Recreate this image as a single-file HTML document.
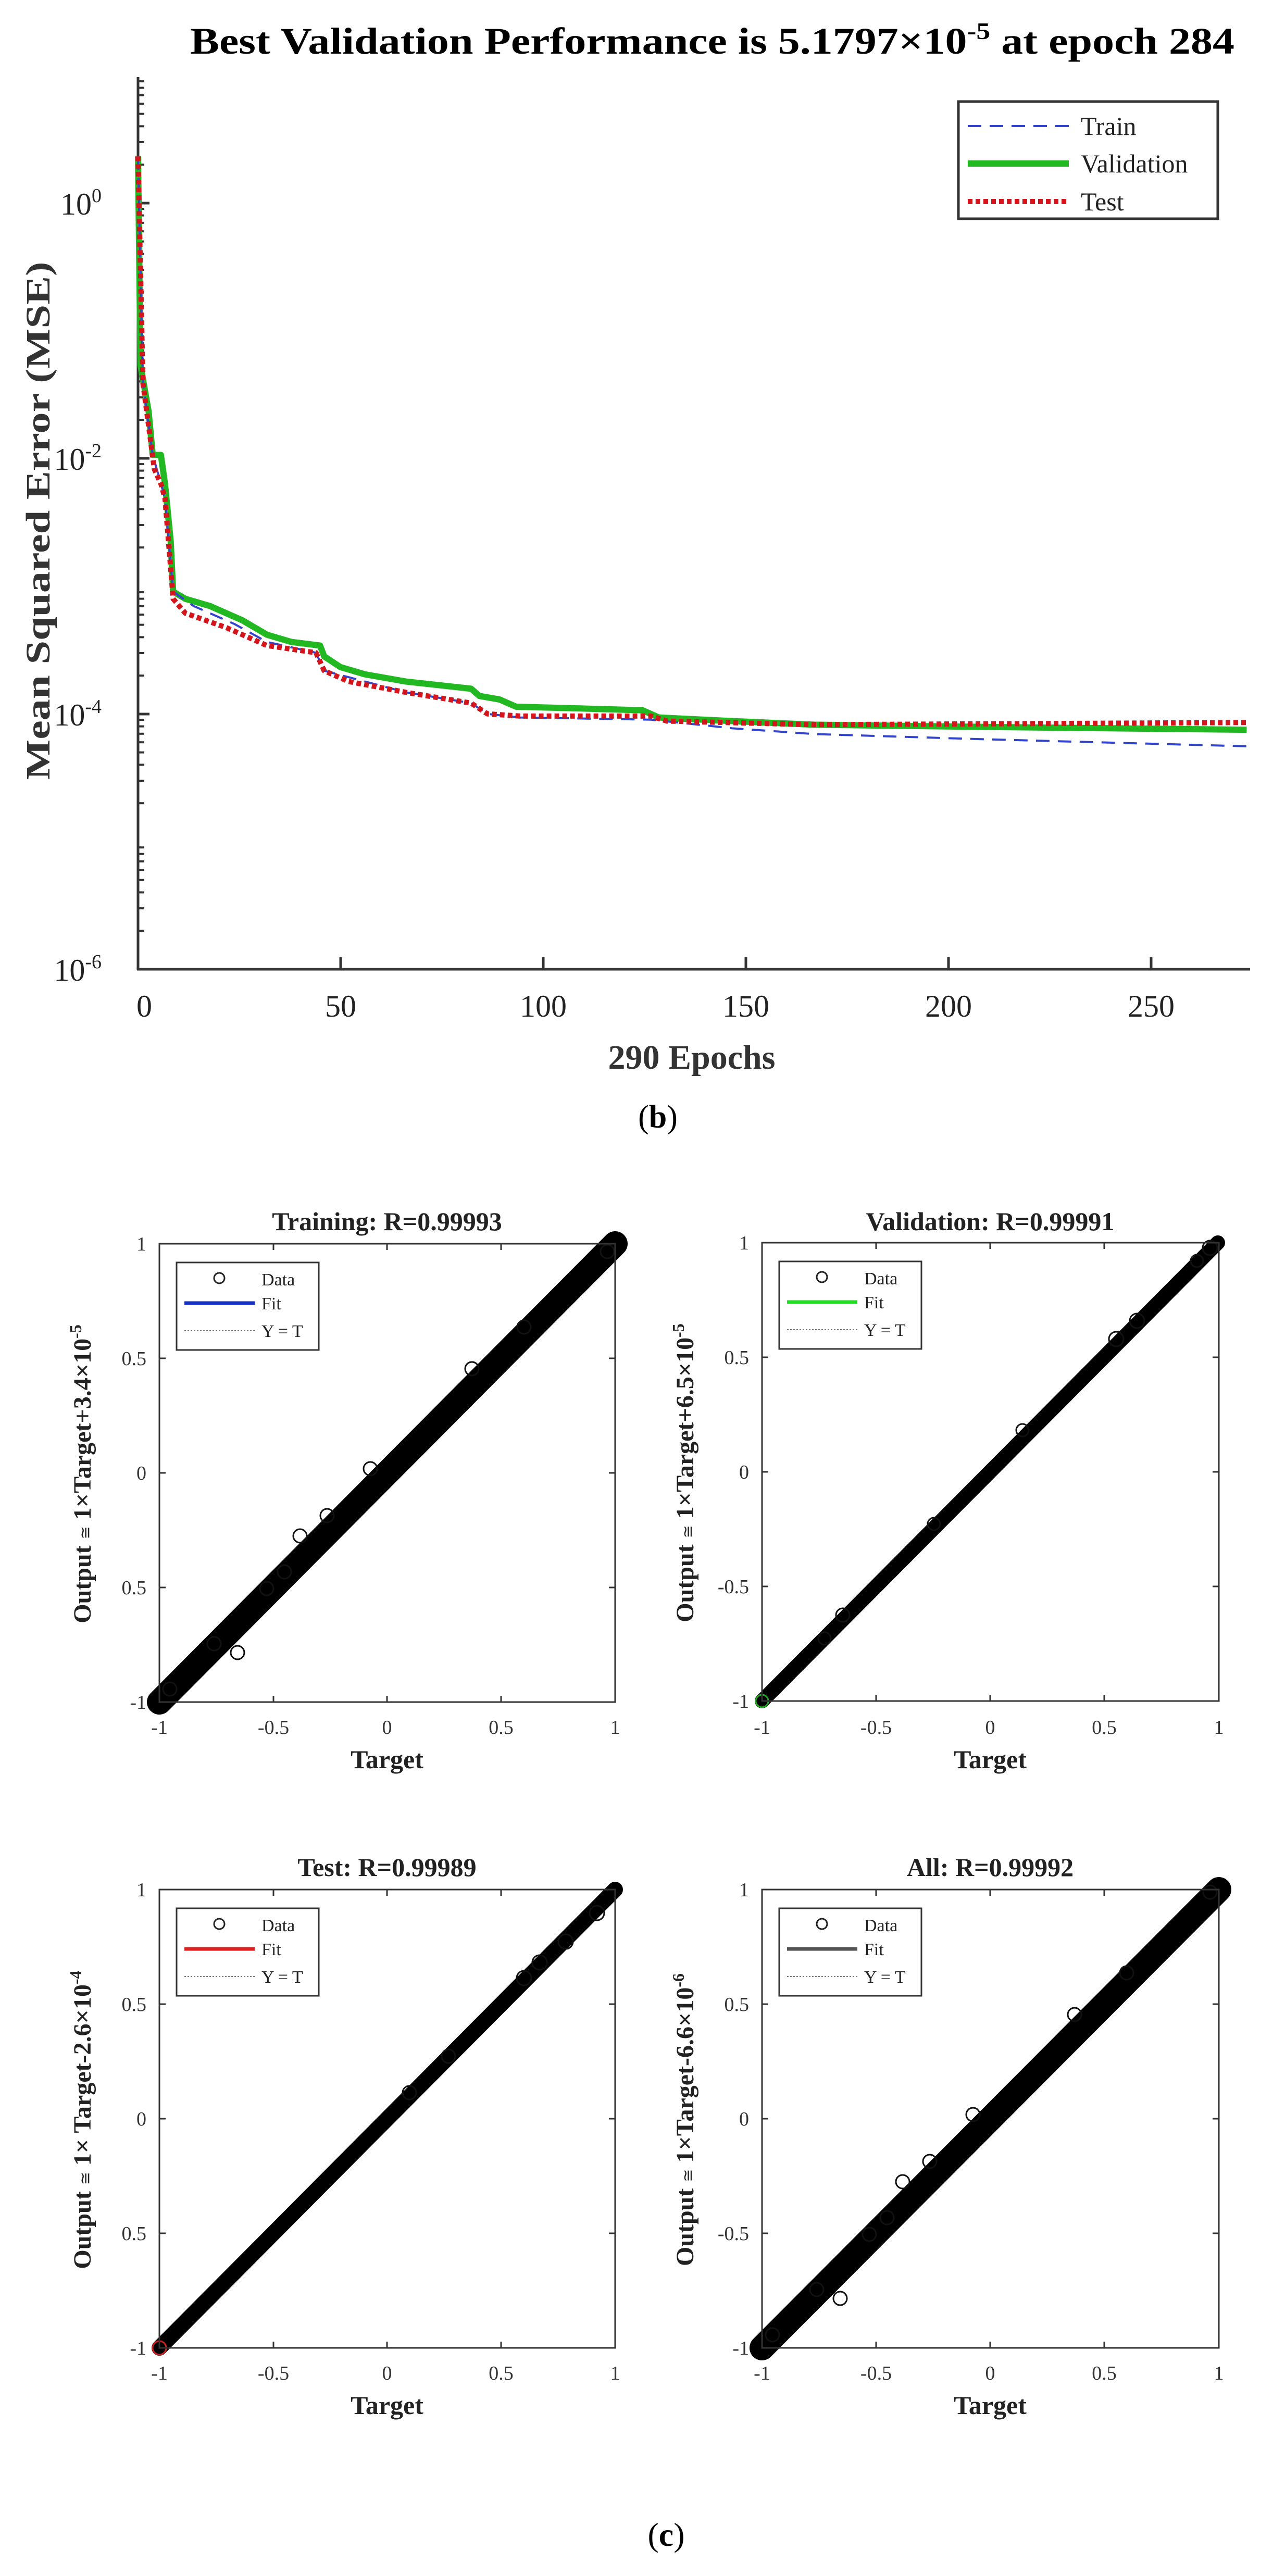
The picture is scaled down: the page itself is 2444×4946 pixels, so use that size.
<!DOCTYPE html>
<html><head><meta charset="utf-8"><style>
html,body{margin:0;padding:0;background:#fff}
svg{display:block}
text{font-family:"Liberation Serif",serif}
</style></head><body>
<svg width="2444" height="4946" viewBox="0 0 2444 4946" xmlns="http://www.w3.org/2000/svg">
<rect width="2444" height="4946" fill="#fff"/>
<defs>
<g id="dec" stroke="#333" stroke-width="4">
<line x1="265" x2="277" y1="-73.8" y2="-73.8"/><line x1="265" x2="277" y1="-117" y2="-117"/>
<line x1="265" x2="277" y1="-147.6" y2="-147.6"/><line x1="265" x2="277" y1="-171.4" y2="-171.4"/>
<line x1="265" x2="277" y1="-190.8" y2="-190.8"/><line x1="265" x2="277" y1="-207.2" y2="-207.2"/>
<line x1="265" x2="277" y1="-221.4" y2="-221.4"/><line x1="265" x2="277" y1="-233.9" y2="-233.9"/>
</g>
</defs>

<text x="365" y="103" font-size="72" font-weight="bold" textLength="2005" lengthAdjust="spacingAndGlyphs">Best Validation Performance is 5.1797×10<tspan dy="-28" font-size="46">-5</tspan><tspan dy="28"> at epoch 284</tspan></text>

<g>
<use href="#dec" y="1861"/><use href="#dec" y="1616"/><use href="#dec" y="1371"/><use href="#dec" y="1125"/>
<use href="#dec" y="880"/><use href="#dec" y="635"/><use href="#dec" y="390"/>
</g>
<g stroke="#333" stroke-width="5">
<line x1="265" y1="148" x2="265" y2="1863"/>
<line x1="263" y1="1861" x2="2400" y2="1861"/>
<line x1="265" x2="287" y1="390" y2="390"/><line x1="265" x2="287" y1="880" y2="880"/>
<line x1="265" x2="287" y1="1371" y2="1371"/>
<line x1="654" x2="654" y1="1861" y2="1838"/><line x1="1043" x2="1043" y1="1861" y2="1838"/>
<line x1="1432" x2="1432" y1="1861" y2="1838"/><line x1="1821" x2="1821" y1="1861" y2="1838"/>
<line x1="2210" x2="2210" y1="1861" y2="1838"/>
</g>
<g font-size="60" fill="#222" text-anchor="end">
<text x="195" y="412">10<tspan dy="-24" font-size="38">0</tspan></text>
<text x="195" y="902">10<tspan dy="-24" font-size="38">-2</tspan></text>
<text x="195" y="1393">10<tspan dy="-24" font-size="38">-4</tspan></text>
<text x="195" y="1883">10<tspan dy="-24" font-size="38">-6</tspan></text>
</g>
<g font-size="60" fill="#222" text-anchor="middle">
<text x="277" y="1952">0</text><text x="654" y="1952">50</text><text x="1043" y="1952">100</text>
<text x="1432" y="1952">150</text><text x="1821" y="1952">200</text><text x="2210" y="1952">250</text>
</g>
<text x="1328" y="2052" font-size="66" font-weight="bold" fill="#333" text-anchor="middle">290 Epochs</text>
<text transform="translate(95,1000) rotate(-90)" font-size="66" font-weight="bold" fill="#333" text-anchor="middle" textLength="995" lengthAdjust="spacingAndGlyphs">Mean Squared Error  (MSE)</text>

<g transform="matrix(1.5674,0,0,1.3812,-4.6,-10.5)" fill="none" stroke-linejoin="round">
<polyline vector-effect="non-scaling-stroke" stroke="#22b822" stroke-width="12" points="172,225 175,515 185,580 190,640 200,640 205,680 212,760 215,830 230,840 260,850 300,870 330,890 360,900 395,905 400,920 420,935 450,945 500,955 580,965 590,975 615,980 635,990 700,992 790,995 810,1005 900,1010 1000,1015 1200,1018 1530,1022"/>
<polyline vector-effect="non-scaling-stroke" stroke="#3344cc" stroke-width="4" stroke-dasharray="26 16" points="172,225 178,540 190,640 205,700 215,830 240,850 290,875 330,900 390,915 400,940 500,970 580,985 600,1000 640,1005 800,1008 900,1020 1000,1028 1200,1035 1530,1045"/>
<polyline vector-effect="non-scaling-stroke" stroke="#d4161c" stroke-width="10" stroke-dasharray="9 6" points="172,225 178,540 185,600 192,660 200,680 205,700 210,770 215,840 230,860 280,880 330,905 390,915 400,940 430,955 500,970 580,985 600,1000 640,1003 800,1003 820,1010 1000,1015 1530,1012"/>
</g>

<rect x="1840" y="195" width="498" height="225" fill="#fff" stroke="#333" stroke-width="5"/>
<line x1="1858" y1="242" x2="2052" y2="242" stroke="#3344cc" stroke-width="4" stroke-dasharray="26 16"/>
<line x1="1858" y1="314" x2="2052" y2="314" stroke="#22b822" stroke-width="12"/>
<line x1="1858" y1="387" x2="2052" y2="387" stroke="#d4161c" stroke-width="10" stroke-dasharray="9 6"/>
<g font-size="50" fill="#222">
<text x="2075" y="259">Train</text><text x="2075" y="331">Validation</text><text x="2075" y="404">Test</text>
</g>

<text x="1263" y="2165" font-size="62" text-anchor="middle">(<tspan font-weight="bold">b</tspan>)</text>
<text x="1279" y="4888" font-size="64" text-anchor="middle">(<tspan font-weight="bold">c</tspan>)</text>

<!-- Panel 1 -->
<g transform="translate(306,2388)">
<line x1="0" y1="880" x2="875" y2="0" stroke="#1530c0" stroke-width="6"/>
<line x1="0" y1="880" x2="875" y2="0" stroke="#000" stroke-width="48" stroke-linecap="round"/>
<g fill="none" stroke="#111" stroke-width="3">
<circle cx="405" cy="432" r="13"/><circle cx="322" cy="522" r="13"/><circle cx="270" cy="561" r="13"/><circle cx="206" cy="662" r="13"/>
<circle cx="105" cy="768" r="13"/><circle cx="150" cy="785" r="13"/><circle cx="20" cy="855" r="13"/><circle cx="240" cy="630" r="13"/>
<circle cx="600" cy="240" r="13"/><circle cx="700" cy="160" r="13"/><circle cx="860" cy="15" r="13"/>
</g>
<rect x="0" y="0" width="875" height="880" fill="none" stroke="#333" stroke-width="3"/>
<g stroke="#333" stroke-width="3">
<line x1="219" x2="219" y1="880" y2="868"/><line x1="437" x2="437" y1="880" y2="868"/><line x1="656" x2="656" y1="880" y2="868"/>
<line x1="219" x2="219" y1="0" y2="12"/><line x1="437" x2="437" y1="0" y2="12"/><line x1="656" x2="656" y1="0" y2="12"/>
<line x1="0" x2="12" y1="220" y2="220"/><line x1="0" x2="12" y1="440" y2="440"/><line x1="0" x2="12" y1="660" y2="660"/>
<line x1="875" x2="863" y1="220" y2="220"/><line x1="875" x2="863" y1="440" y2="440"/><line x1="875" x2="863" y1="660" y2="660"/>
</g>
<rect x="33" y="36" width="273" height="168" fill="#fff" stroke="#333" stroke-width="3"/>
<circle cx="115" cy="66" r="10" fill="none" stroke="#222" stroke-width="3"/>
<line x1="48" y1="114" x2="183" y2="114" stroke="#1530c0" stroke-width="7"/>
<line x1="48" y1="167" x2="183" y2="167" stroke="#777" stroke-width="2" stroke-dasharray="3 3"/>
<g font-size="34" fill="#222"><text x="196" y="80">Data</text><text x="196" y="126">Fit</text><text x="196" y="179">Y = T</text></g>
<text x="437" y="-26" font-size="50" font-weight="bold" text-anchor="middle" fill="#222">Training: R=0.99993</text>
<text x="437" y="1007" font-size="50" font-weight="bold" text-anchor="middle" fill="#222">Target</text>
<g font-size="38" fill="#333" text-anchor="middle"><text x="0" y="941">-1</text><text x="219" y="941">-0.5</text><text x="437" y="941">0</text><text x="656" y="941">0.5</text><text x="875" y="941">1</text></g>
<g font-size="38" fill="#333" text-anchor="end"><text x="-25" y="13">1</text><text x="-25" y="233">0.5</text><text x="-25" y="453">0</text><text x="-25" y="673">0.5</text><text x="-25" y="893">-1</text></g>
<text transform="translate(-132,442) rotate(-90)" font-size="48" font-weight="bold" fill="#222" text-anchor="middle">Output <tspan font-size="30" font-weight="normal">≅</tspan> 1×Target+3.4×10<tspan dy="-18" font-size="32">-5</tspan></text>
</g>

<!-- Panel 2 -->
<g transform="translate(1463,2386)">
<line x1="0" y1="880" x2="875" y2="0" stroke="#22dd22" stroke-width="6"/>
<line x1="0" y1="880" x2="875" y2="0" stroke="#000" stroke-width="28" stroke-linecap="round"/>
<g fill="none" stroke="#111" stroke-width="3">
<circle cx="155" cy="715" r="13"/><circle cx="120" cy="760" r="12"/><circle cx="330" cy="540" r="12"/><circle cx="500" cy="360" r="12"/>
<circle cx="680" cy="185" r="14"/><circle cx="720" cy="150" r="14"/><circle cx="860" cy="10" r="14"/><circle cx="835" cy="35" r="12"/>
<circle cx="0" cy="880" r="12" stroke="#2a2"/>
</g>
<rect x="0" y="0" width="877" height="880" fill="none" stroke="#333" stroke-width="3"/>
<g stroke="#333" stroke-width="3">
<line x1="219" x2="219" y1="880" y2="868"/><line x1="438" x2="438" y1="880" y2="868"/><line x1="657" x2="657" y1="880" y2="868"/>
<line x1="219" x2="219" y1="0" y2="12"/><line x1="438" x2="438" y1="0" y2="12"/><line x1="657" x2="657" y1="0" y2="12"/>
<line x1="0" x2="12" y1="220" y2="220"/><line x1="0" x2="12" y1="440" y2="440"/><line x1="0" x2="12" y1="660" y2="660"/>
<line x1="877" x2="865" y1="220" y2="220"/><line x1="877" x2="865" y1="440" y2="440"/><line x1="877" x2="865" y1="660" y2="660"/>
</g>
<rect x="33" y="36" width="273" height="168" fill="#fff" stroke="#333" stroke-width="3"/>
<circle cx="115" cy="66" r="10" fill="none" stroke="#222" stroke-width="3"/>
<line x1="48" y1="114" x2="183" y2="114" stroke="#22dd22" stroke-width="7"/>
<line x1="48" y1="167" x2="183" y2="167" stroke="#777" stroke-width="2" stroke-dasharray="3 3"/>
<g font-size="34" fill="#222"><text x="196" y="80">Data</text><text x="196" y="126">Fit</text><text x="196" y="179">Y = T</text></g>
<text x="438" y="-24" font-size="50" font-weight="bold" text-anchor="middle" fill="#222">Validation: R=0.99991</text>
<text x="438" y="1009" font-size="50" font-weight="bold" text-anchor="middle" fill="#222">Target</text>
<g font-size="38" fill="#333" text-anchor="middle"><text x="0" y="943">-1</text><text x="219" y="943">-0.5</text><text x="438" y="943">0</text><text x="657" y="943">0.5</text><text x="877" y="943">1</text></g>
<g font-size="38" fill="#333" text-anchor="end"><text x="-25" y="13">1</text><text x="-25" y="233">0.5</text><text x="-25" y="453">0</text><text x="-25" y="673">-0.5</text><text x="-25" y="893">-1</text></g>
<text transform="translate(-132,442) rotate(-90)" font-size="48" font-weight="bold" fill="#222" text-anchor="middle">Output <tspan font-size="30" font-weight="normal">≅</tspan> 1×Target+6.5×10<tspan dy="-18" font-size="32">-5</tspan></text>
</g>

<!-- Panel 3 -->
<g transform="translate(306,3628)">
<line x1="0" y1="880" x2="875" y2="0" stroke="#dd2020" stroke-width="6"/>
<line x1="0" y1="880" x2="875" y2="0" stroke="#000" stroke-width="30" stroke-linecap="round"/>
<g fill="none" stroke="#111" stroke-width="3">
<circle cx="480" cy="390" r="13"/><circle cx="555" cy="320" r="13"/><circle cx="700" cy="170" r="14"/><circle cx="730" cy="140" r="14"/>
<circle cx="780" cy="100" r="14"/><circle cx="840" cy="45" r="14"/><circle cx="0" cy="880" r="13" stroke="#c22"/>
</g>
<rect x="0" y="0" width="875" height="880" fill="none" stroke="#333" stroke-width="3"/>
<g stroke="#333" stroke-width="3">
<line x1="219" x2="219" y1="880" y2="868"/><line x1="437" x2="437" y1="880" y2="868"/><line x1="656" x2="656" y1="880" y2="868"/>
<line x1="219" x2="219" y1="0" y2="12"/><line x1="437" x2="437" y1="0" y2="12"/><line x1="656" x2="656" y1="0" y2="12"/>
<line x1="0" x2="12" y1="220" y2="220"/><line x1="0" x2="12" y1="440" y2="440"/><line x1="0" x2="12" y1="660" y2="660"/>
<line x1="875" x2="863" y1="220" y2="220"/><line x1="875" x2="863" y1="440" y2="440"/><line x1="875" x2="863" y1="660" y2="660"/>
</g>
<rect x="33" y="36" width="273" height="168" fill="#fff" stroke="#333" stroke-width="3"/>
<circle cx="115" cy="66" r="10" fill="none" stroke="#222" stroke-width="3"/>
<line x1="48" y1="114" x2="183" y2="114" stroke="#dd2020" stroke-width="7"/>
<line x1="48" y1="167" x2="183" y2="167" stroke="#777" stroke-width="2" stroke-dasharray="3 3"/>
<g font-size="34" fill="#222"><text x="196" y="80">Data</text><text x="196" y="126">Fit</text><text x="196" y="179">Y = T</text></g>
<text x="437" y="-26" font-size="50" font-weight="bold" text-anchor="middle" fill="#222">Test: R=0.99989</text>
<text x="437" y="1007" font-size="50" font-weight="bold" text-anchor="middle" fill="#222">Target</text>
<g font-size="38" fill="#333" text-anchor="middle"><text x="0" y="941">-1</text><text x="219" y="941">-0.5</text><text x="437" y="941">0</text><text x="656" y="941">0.5</text><text x="875" y="941">1</text></g>
<g font-size="38" fill="#333" text-anchor="end"><text x="-25" y="13">1</text><text x="-25" y="233">0.5</text><text x="-25" y="453">0</text><text x="-25" y="673">0.5</text><text x="-25" y="893">-1</text></g>
<text transform="translate(-132,442) rotate(-90)" font-size="48" font-weight="bold" fill="#222" text-anchor="middle">Output <tspan font-size="30" font-weight="normal">≅</tspan> 1× Target-2.6×10<tspan dy="-18" font-size="32">-4</tspan></text>
</g>

<!-- Panel 4 -->
<g transform="translate(1463,3628)">
<line x1="0" y1="880" x2="877" y2="0" stroke="#000" stroke-width="48" stroke-linecap="round"/>
<g fill="none" stroke="#111" stroke-width="3">
<circle cx="405" cy="432" r="13"/><circle cx="322" cy="522" r="13"/><circle cx="270" cy="561" r="13"/><circle cx="206" cy="662" r="13"/>
<circle cx="105" cy="768" r="13"/><circle cx="150" cy="785" r="13"/><circle cx="20" cy="855" r="13"/><circle cx="240" cy="630" r="13"/>
<circle cx="600" cy="240" r="13"/><circle cx="700" cy="160" r="13"/><circle cx="860" cy="5" r="13"/>
</g>
<rect x="0" y="0" width="877" height="880" fill="none" stroke="#333" stroke-width="3"/>
<g stroke="#333" stroke-width="3">
<line x1="219" x2="219" y1="880" y2="868"/><line x1="438" x2="438" y1="880" y2="868"/><line x1="657" x2="657" y1="880" y2="868"/>
<line x1="219" x2="219" y1="0" y2="12"/><line x1="438" x2="438" y1="0" y2="12"/><line x1="657" x2="657" y1="0" y2="12"/>
<line x1="0" x2="12" y1="220" y2="220"/><line x1="0" x2="12" y1="440" y2="440"/><line x1="0" x2="12" y1="660" y2="660"/>
<line x1="877" x2="865" y1="220" y2="220"/><line x1="877" x2="865" y1="440" y2="440"/><line x1="877" x2="865" y1="660" y2="660"/>
</g>
<rect x="33" y="36" width="273" height="168" fill="#fff" stroke="#333" stroke-width="3"/>
<circle cx="115" cy="66" r="10" fill="none" stroke="#222" stroke-width="3"/>
<line x1="48" y1="114" x2="183" y2="114" stroke="#555" stroke-width="7"/>
<line x1="48" y1="167" x2="183" y2="167" stroke="#777" stroke-width="2" stroke-dasharray="3 3"/>
<g font-size="34" fill="#222"><text x="196" y="80">Data</text><text x="196" y="126">Fit</text><text x="196" y="179">Y = T</text></g>
<text x="438" y="-26" font-size="50" font-weight="bold" text-anchor="middle" fill="#222">All: R=0.99992</text>
<text x="438" y="1007" font-size="50" font-weight="bold" text-anchor="middle" fill="#222">Target</text>
<g font-size="38" fill="#333" text-anchor="middle"><text x="0" y="941">-1</text><text x="219" y="941">-0.5</text><text x="438" y="941">0</text><text x="657" y="941">0.5</text><text x="877" y="941">1</text></g>
<g font-size="38" fill="#333" text-anchor="end"><text x="-25" y="13">1</text><text x="-25" y="233">0.5</text><text x="-25" y="453">0</text><text x="-25" y="673">-0.5</text><text x="-25" y="893">-1</text></g>
<text transform="translate(-132,442) rotate(-90)" font-size="48" font-weight="bold" fill="#222" text-anchor="middle">Output <tspan font-size="30" font-weight="normal">≅</tspan> 1×Target-6.6×10<tspan dy="-18" font-size="32">-6</tspan></text>
</g>
</svg>
</body></html>
